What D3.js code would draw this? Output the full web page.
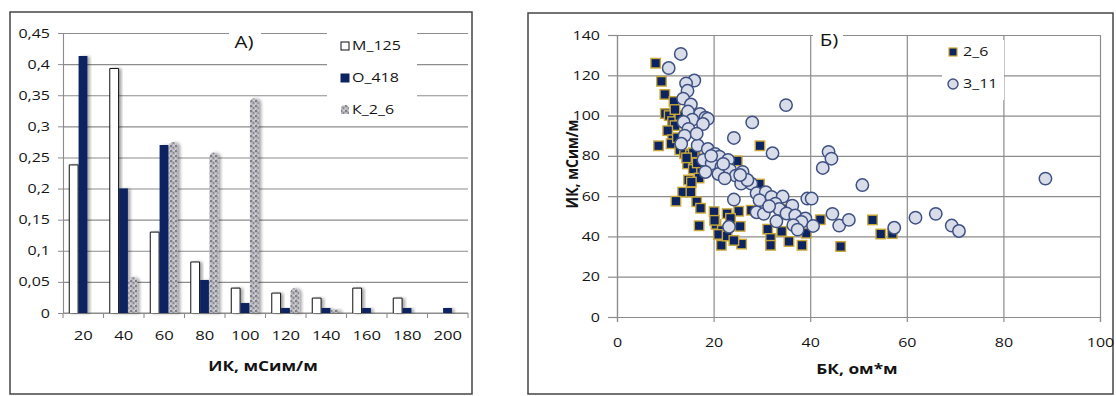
<!DOCTYPE html>
<html>
<head>
<meta charset="utf-8">
<script src="https://cdn.jsdelivr.net/npm/d3@7"></script>
<style>
  body { margin: 0; background: #fff; }
  svg { display: block; font-family: "Open Sans", sans-serif; }
</style>
</head>
<body>
<svg id="chart" width="1116" height="396"></svg>
<script>
// ---- панель А: распределение ИК ----
var bins = ["20", "40", "60", "80", "100", "120", "140", "160", "180", "200"];
var seriesA = ["М_125", "О_418", "К_2_6"];
var m125 = [0.238, 0.393, 0.13, 0.082, 0.04, 0.032, 0.024, 0.04, 0.024, 0];
var o418 = [0.413, 0.2, 0.27, 0.053, 0.016, 0.008, 0.008, 0.008, 0.008, 0.008];
var k26 = [0, 0.058, 0.275, 0.258, 0.345, 0.04, 0.006, 0, 0, 0];

// ---- панель Б: ИК от БК ----
var seriesB = ["2_6", "3_11"];
var s26 = [[8,126],[9.2,117],[9.9,110.5],[11.8,107],[10,101],[10.8,100],[11.5,97],[12,95],[10.5,92.5],[11.5,88],
  [8.6,85],[11.2,86],[12.5,89],[13,83],[14,81],[15,79],[15.5,77],[16.2,80],[14.6,76],[16.8,75],[15.8,73.5],
  [17.5,72],[17,69],[14.8,68],[15.4,67],[29.6,85],[24.9,77.5],[29.5,66],[13.6,62],[15.3,62],[12.2,57.5],
  [16.5,57.2],[17.3,54],[20.1,52.3],[22.8,51.3],[25.2,52.5],[27.8,53],[34.3,53.5],[17,45.3],[20.5,46],
  [21.8,43],[25.5,45],[21.6,35.6],[25.8,36.2],[21,41],[22.8,40.2],[24.2,38],[31.2,43.6],[31.8,39],[31.8,35.6],
  [34.1,42.5],[35.6,37.5],[38.3,35.6],[39.2,41.6],[42.1,48.3],[46.3,35],[52.9,48.2],[54.6,41.2],[57,41.4],
  [20.2,48],[13,100],[12,103],[23.5,49],[15.2,80.5],[16,78],[16.6,76.5],[15.8,81.5],[14.4,79]];
var s311 = [[13.2,130.6],[10.7,123.6],[16,117.4],[14.3,116],[14.6,112.3],[13.7,108.4],[15.3,105.5],[35,105.2],
  [14.7,102],[17.2,100.8],[18.3,99],[18.8,98.4],[15.6,98],[13.8,96.8],[17.8,95.8],[28,96.6],[14.8,93.4],[14,90],
  [24.2,88.9],[13.3,86],[16.7,85.2],[18.8,83.4],[20.3,81],[32.2,81.3],[43.8,82],[44.4,78.6],[42.6,74],[21.2,79.6],
  [23,78],[17.9,78],[19.6,76.2],[21.6,74.5],[23.4,73],[18.3,72],[21,71],[24.6,70.2],[22.3,68.8],[25.7,66.2],
  [27.8,66.2],[50.8,65.5],[28.9,61.4],[30.8,62],[32,59.6],[34.3,59.8],[24.2,58.3],[39.4,58.8],[40.3,58.8],
  [32.8,56.3],[36.3,55.3],[33.6,53.6],[28.9,52],[30.4,51.2],[35.1,51.4],[36.9,50.4],[39,48.9],[44.6,51.2],
  [38.2,47.2],[33,47.5],[36.5,45.6],[37.4,43.4],[40.6,45.2],[46,45.4],[48,48.2],[57.4,44.3],[61.8,49.3],
  [66,51.2],[69.3,45.4],[70.8,42.7],[88.7,68.7],[23.2,44.8],[16.5,91],[19.5,80],[22,76],[26,72],[27,68],
  [29.5,58],[31.5,55],[25.5,70.5]];

var GRID = "#8c8c8c";
var TXT = "#141414";
var NAVY = "#0c2461";
var STRETCH = 1.28; // текст на исходнике растянут по горизонтали

var svg = d3.select("#chart");
var defs = svg.append("defs");

// крапчатая заливка для К_2_6
var pat = defs.append("pattern").attr("id", "speck").attr("patternUnits", "userSpaceOnUse")
  .attr("width", 5).attr("height", 5);
pat.append("rect").attr("width", 5).attr("height", 5).attr("fill", "#b7b7bd");
[[1, 1, "#63636d", 0.9], [3.5, 3, "#85858e", 0.9], [4, 0.6, "#e4e4e8", 0.7], [0.6, 4, "#d8d8dc", 0.7], [2.6, 1.8, "#9c9ca3", 0.6]]
  .forEach(function (p) {
    pat.append("circle").attr("cx", p[0]).attr("cy", p[1]).attr("r", p[3]).attr("fill", p[2]);
  });

var sh = defs.append("filter").attr("id", "shadow").attr("x", "-50%").attr("y", "-10%").attr("width", "200%").attr("height", "120%");
sh.append("feDropShadow").attr("dx", 2.5).attr("dy", 0.5).attr("stdDeviation", 1.4)
  .attr("flood-color", "#000").attr("flood-opacity", 0.35);

function stretch(sel, x) {
  sel.attr("transform", "scale(" + STRETCH + ",1)");
  if (x !== undefined) sel.attr("x", x / STRETCH);
}

function label(g, x, y, text, size, weight, anchor) {
  return g.append("text")
    .attr("transform", "translate(" + x + "," + y + ") scale(" + STRETCH + ",1)")
    .attr("text-anchor", anchor || "middle")
    .attr("dy", "0.35em")
    .style("font-size", size + "px")
    .style("font-weight", weight || 400)
    .style("fill", TXT)
    .text(text);
}

// рамки панелей
svg.append("rect").attr("x", 10).attr("y", 12).attr("width", 462).attr("height", 382)
  .attr("fill", "#fff").attr("stroke", "#454545").attr("stroke-width", 1.5);
svg.append("rect").attr("x", 528).attr("y", 13).attr("width", 585).attr("height", 381)
  .attr("fill", "#fff").attr("stroke", "#454545").attr("stroke-width", 1.5);

// ================= ПАНЕЛЬ А =================
var gA = svg.append("g");
var xA = d3.scaleBand().domain(bins).range([63, 468]).paddingInner(0.31).paddingOuter(0.155);
var xS = d3.scaleBand().domain(seriesA).range([0, xA.bandwidth()]);
var yA = d3.scaleLinear().domain([0, 0.45]).range([313, 33]);
var fmtA = function (d) { return d3.format(".2~f")(d).replace(".", ","); };

gA.append("g").attr("transform", "translate(63,0)")
  .call(d3.axisLeft(yA).ticks(10).tickSize(-405).tickFormat(""))
  .call(function (g) {
    g.select(".domain").remove();
    g.selectAll("line").attr("stroke", GRID).attr("stroke-width", 1.1);
  });
gA.append("g").attr("transform", "translate(63,0)")
  .call(d3.axisLeft(yA).ticks(10).tickSize(5).tickPadding(8).tickFormat(fmtA))
  .call(function (g) {
    g.select(".domain").attr("stroke", GRID).attr("stroke-width", 1.1);
    g.selectAll("line").attr("stroke", GRID);
    g.selectAll("text").style("font-size", "12.5px").style("fill", TXT).style("font-family", "Open Sans")
      .each(function () { stretch(d3.select(this), -13); });
  });

// ось X: подписи по центру, риски на границах интервалов
var gap = (xA.step() - xA.bandwidth()) / 2;
var bounds = bins.map(function (b) { return xA(b) - gap; }).concat([xA.range()[1]]);
gA.selectAll(".xtick").data(bounds).enter().append("line")
  .attr("x1", function (d) { return d; }).attr("x2", function (d) { return d; })
  .attr("y1", yA(0)).attr("y2", yA(0) + 5).attr("stroke", GRID).attr("stroke-width", 1.1);
gA.append("line").attr("x1", xA.range()[0]).attr("x2", xA.range()[1])
  .attr("y1", yA(0)).attr("y2", yA(0)).attr("stroke", GRID).attr("stroke-width", 1.1);
gA.append("g").attr("transform", "translate(0," + yA(0) + ")")
  .call(d3.axisBottom(xA).tickSize(0).tickPadding(18))
  .call(function (g) {
    g.select(".domain").remove();
    g.selectAll("text").style("font-size", "13px").style("fill", TXT).style("font-family", "Open Sans")
      .each(function () { stretch(d3.select(this)); });
  });

// заголовок и легенда закрывают сетку
gA.append("rect").attr("x", 229).attr("y", 27).attr("width", 32).attr("height", 26).attr("fill", "#fff");
label(gA, 244, 42, "А)", 16);
gA.append("rect").attr("x", 327).attr("y", 27).attr("width", 90).attr("height", 92).attr("fill", "#fff");

var barsData = seriesA.map(function (s, i) { return { name: s, values: [m125, o418, k26][i] }; });
var barG = gA.append("g");
barsData.forEach(function (s, si) {
  barG.selectAll(".bar" + si).data(s.values.map(function (v, i) { return { bin: bins[i], v: v }; }))
    .enter().filter(function (d) { return d.v > 0; })
    .append("path")
    .attr("d", function (d) {
      var x = xA(d.bin) + xS(s.name), w = xS.bandwidth() - 0.5;
      var y = yA(d.v), y0 = yA(0);
      if (si < 2) return "M" + x + "," + y0 + "V" + y + "H" + (x + w) + "V" + y0;
      var r = Math.min(w / 2, (y0 - y) / 2);
      return "M" + x + "," + y0 + "V" + (y + r) + "A" + (w / 2) + "," + r + " 0 0 1 " + (x + w) + "," + (y + r) + "V" + y0 + "Z";
    })
    .attr("fill", si === 0 ? "#fff" : si === 1 ? NAVY : "url(#speck)")
    .attr("stroke", si === 0 ? "#111" : "none")
    .attr("stroke-width", 1)
    .attr("filter", "url(#shadow)");
});

label(gA, 263, 366, "ИК, мСим/м", 13.5, 700);

// легенда А
var legA = gA.append("g");
seriesA.forEach(function (s, i) {
  var cy = 46 + i * 32;
  if (i === 2) {
    legA.append("path").attr("d", "M341," + (cy + 4) + "V" + (cy - 1) + "A4,4 0 0 1 349," + (cy - 1) + "V" + (cy + 4) + "Z")
      .attr("fill", "url(#speck)");
  } else {
    legA.append("rect").attr("x", 341).attr("y", cy - 4).attr("width", 8).attr("height", 8)
      .attr("fill", i === 0 ? "#fff" : NAVY).attr("stroke", i === 0 ? "#111" : NAVY).attr("stroke-width", 1);
  }
  label(legA, 352, cy, s, 12.5, 400, "start");
});

// ================= ПАНЕЛЬ Б =================
var gB = svg.append("g");
var xB = d3.scaleLinear().domain([0, 100]).range([617, 1100]);
var yB = d3.scaleLinear().domain([0, 140]).range([317, 35]);

gB.append("g").attr("transform", "translate(617,0)")
  .call(d3.axisLeft(yB).ticks(7).tickSize(-(xB(100) - xB(0))).tickFormat(""))
  .call(function (g) { g.select(".domain").remove(); g.selectAll("line").attr("stroke", GRID).attr("stroke-width", 1.2); });
gB.append("g").attr("transform", "translate(0,317)")
  .call(d3.axisBottom(xB).ticks(5).tickSize(-(yB(0) - yB(140))).tickFormat(""))
  .call(function (g) { g.select(".domain").remove(); g.selectAll("line").attr("stroke", GRID).attr("stroke-width", 1.2); });

gB.append("g").attr("transform", "translate(617,0)")
  .call(d3.axisLeft(yB).ticks(7).tickSize(9).tickPadding(8))
  .call(function (g) {
    g.select(".domain").attr("stroke", GRID).attr("stroke-width", 1.2);
    g.selectAll("line").attr("stroke", GRID).attr("stroke-width", 1.2);
    g.selectAll("text").style("font-size", "12.5px").style("fill", TXT).style("font-family", "Open Sans")
      .each(function () { stretch(d3.select(this), -17); });
  });
gB.append("g").attr("transform", "translate(0,317)")
  .call(d3.axisBottom(xB).ticks(5).tickSize(5).tickPadding(16))
  .call(function (g) {
    g.select(".domain").attr("stroke", GRID).attr("stroke-width", 1.2);
    g.selectAll("line").attr("stroke", GRID).attr("stroke-width", 1.2);
    g.selectAll("text").style("font-size", "12.5px").style("fill", TXT).style("font-family", "Open Sans")
      .each(function () { stretch(d3.select(this)); });
  });

gB.append("rect").attr("x", 813).attr("y", 26).attr("width", 30).attr("height", 26).attr("fill", "#fff");
label(gB, 829, 40, "Б)", 16);
gB.append("rect").attr("x", 942).attr("y", 40).attr("width", 62).attr("height", 60).attr("fill", "#fff");

label(gB, 857, 369, "БК, ом*м", 13.5, 700);
gB.append("text")
  .attr("transform", "translate(572,164) scale(1.15,1) rotate(-90)")
  .attr("text-anchor", "middle").attr("dy", "0.35em")
  .style("font-size", "14px").style("font-weight", 700).style("fill", TXT)
  .text("ИК, мСим/м");

var SQ = 9.5;
gB.append("g").selectAll("rect").data(s26).enter().append("rect")
  .attr("x", function (d) { return xB(d[0]) - SQ / 2; })
  .attr("y", function (d) { return yB(d[1]) - SQ / 2; })
  .attr("width", SQ).attr("height", SQ)
  .attr("fill", NAVY).attr("stroke", "#c9a838").attr("stroke-width", 1.4);

gB.append("g").selectAll("circle").data(s311).enter().append("circle")
  .attr("cx", function (d) { return xB(d[0]); })
  .attr("cy", function (d) { return yB(d[1]); })
  .attr("r", 6.2)
  .attr("fill", "#d8dde9").attr("stroke", "#3f5183").attr("stroke-width", 1.5);

// легенда Б
gB.append("rect").attr("x", 949).attr("y", 48).attr("width", 8).attr("height", 8)
  .attr("fill", NAVY).attr("stroke", "#c9a838").attr("stroke-width", 1.2);
label(gB, 963, 52, seriesB[0], 12.5, 400, "start");
gB.append("circle").attr("cx", 953).attr("cy", 84).attr("r", 5)
  .attr("fill", "#d8dde9").attr("stroke", "#3f5183").attr("stroke-width", 1.4);
label(gB, 963, 84, seriesB[1], 12.5, 400, "start");
</script>
</body>
</html>
